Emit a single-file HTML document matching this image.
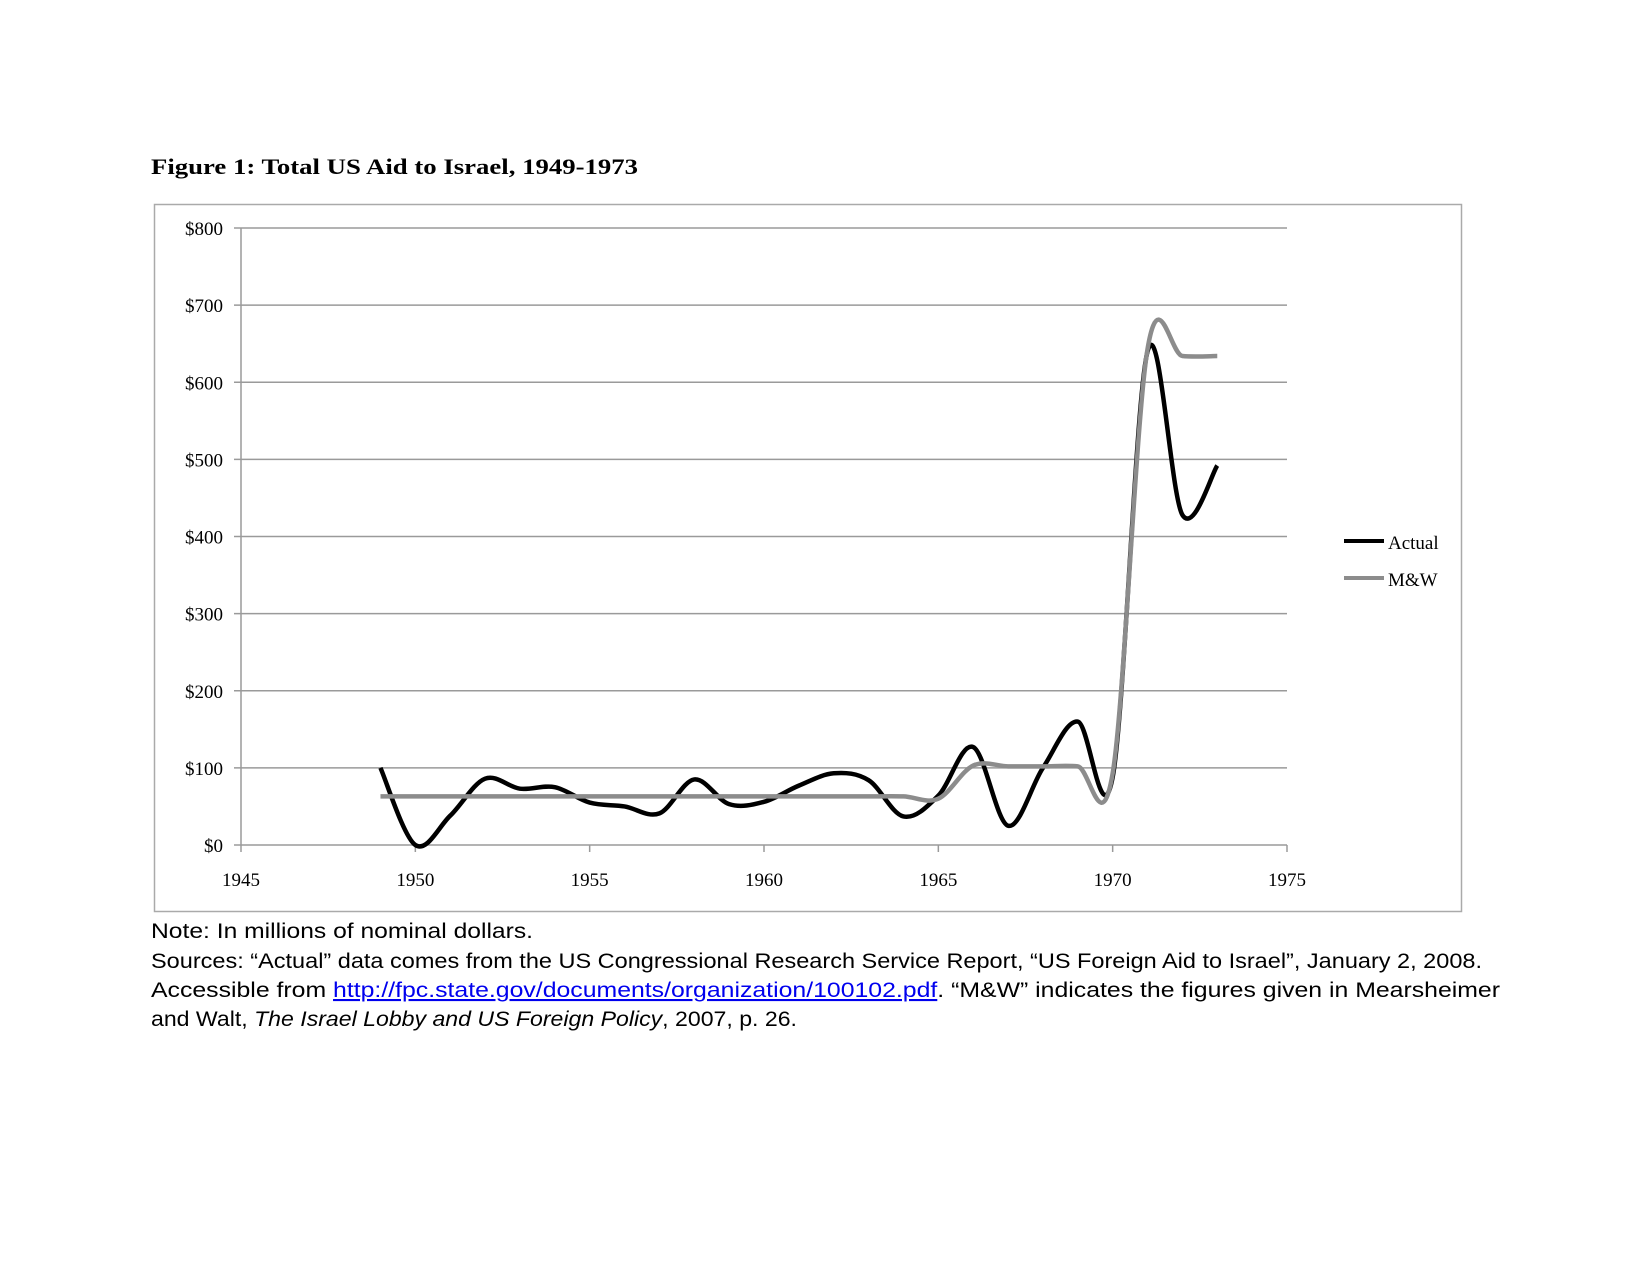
<!DOCTYPE html>
<html><head><meta charset="utf-8"><style>
body{margin:0;background:#fff}
svg{display:block}
text{font-family:"Liberation Serif",serif}
.note{font-family:"Liberation Sans",sans-serif;font-size:21px}
</style></head><body>
<svg id="chart" width="1651" height="1275" viewBox="0 0 1651 1275" xmlns="http://www.w3.org/2000/svg">
<text x="151" y="174" font-size="22" font-weight="bold" textLength="487" lengthAdjust="spacingAndGlyphs">Figure 1: Total US Aid to Israel, 1949-1973</text>
<rect x="154.5" y="204.5" width="1307" height="707" fill="none" stroke="#aaa" stroke-width="1.5"/>
<g id="grid"></g><g id="axes"></g><g id="series"></g>
<g>
<line x1="1344" y1="541" x2="1384" y2="541" stroke="#000" stroke-width="4"/>
<text x="1388" y="549" font-size="19">Actual</text>
<line x1="1344" y1="578" x2="1384" y2="578" stroke="#8c8c8c" stroke-width="4"/>
<text x="1388" y="586" font-size="19">M&amp;W</text>
</g>
<text class="note" x="151" y="938" textLength="382" lengthAdjust="spacingAndGlyphs">Note: In millions of nominal dollars.</text>
<text class="note" x="151" y="968" textLength="1331" lengthAdjust="spacingAndGlyphs">Sources: “Actual” data comes from the US Congressional Research Service Report, “US Foreign Aid to Israel”, January 2, 2008.</text>
<text class="note" x="151" y="997" textLength="1349" lengthAdjust="spacingAndGlyphs">Accessible from <tspan fill="#0000ee" text-decoration="underline">http://fpc.state.gov/documents/organization/100102.pdf</tspan>. “M&amp;W” indicates the figures given in Mearsheimer</text>
<text class="note" x="151" y="1026" textLength="646" lengthAdjust="spacingAndGlyphs">and Walt, <tspan font-style="italic">The Israel Lobby and US Foreign Policy</tspan>, 2007, p. 26.</text>
</svg>
<script>
const years=[1949,1950,1951,1952,1953,1954,1955,1956,1957,1958,1959,1960,1961,1962,1963,1964,1965,1966,1967,1968,1969,1970,1971,1972,1973];
const actual=[100,0,38,86,73,75,55,50,41,85,53,56,77,93,84,37,64,127,25,100,160,88,640,428,492];
const mw=[63,63,63,63,63,63,63,63,63,63,63,63,63,63,63,63,60,103,102,102,102,93,643,634,634];
const yTicks=[0,100,200,300,400,500,600,700,800];
const xTicks=[1945,1950,1955,1960,1965,1970,1975];
const NS='http://www.w3.org/2000/svg';
const X=v=>241+(v-1945)*(1287-241)/30;
const Y=v=>845-v*(845-228)/800;
function mk(tag,attrs,parent,txt){const e=document.createElementNS(NS,tag);for(const k in attrs)e.setAttribute(k,attrs[k]);if(txt!==undefined)e.textContent=txt;parent.appendChild(e);return e;}
const grid=document.getElementById('grid'),axes=document.getElementById('axes'),ser=document.getElementById('series');
yTicks.forEach(t=>{
 if(t>0){const g=mk('line',{x1:X(1945),x2:X(1975),y1:Y(t),y2:Y(t),stroke:'#9a9a9a','stroke-width':1.5},grid);
 
 }
 const tk=mk('line',{x1:X(1945)-7,x2:X(1945),y1:Y(t),y2:Y(t),stroke:'#9a9a9a','stroke-width':1.5},axes);
 
 
 const l=mk('text',{x:223,y:Y(t)+7,'text-anchor':'end','font-size':19},axes,'$'+t);
 
 
});
const ya=mk('line',{x1:X(1945),x2:X(1945),y1:Y(800),y2:Y(0),stroke:'#9a9a9a','stroke-width':1.5},axes);


const xa=mk('line',{x1:X(1945),x2:X(1975),y1:Y(0),y2:Y(0),stroke:'#9a9a9a','stroke-width':1.5},axes);


xTicks.forEach(t=>{
 const tk=mk('line',{x1:X(t),x2:X(t),y1:Y(0),y2:Y(0)+7,stroke:'#9a9a9a','stroke-width':1.5},axes);
 
 
 const l=mk('text',{x:X(t),y:886,'text-anchor':'middle','font-size':19},axes,String(t));
 
 
});
function smooth(vals){
 const p=years.map((y,i)=>[X(y),Y(vals[i])]);
 let d='M'+p[0][0]+','+p[0][1];
 for(let i=0;i<p.length-1;i++){
  const p0=p[i-1]||p[i],p1=p[i],p2=p[i+1],p3=p[i+2]||p[i+1];
  const c1=[p1[0]+(p2[0]-p0[0])/6,p1[1]+(p2[1]-p0[1])/6];
  const c2=[p2[0]-(p3[0]-p1[0])/6,p2[1]-(p3[1]-p1[1])/6];
  d+=' C'+c1+' '+c2+' '+p2;
 }
 return d;
}
const a=mk('path',{d:smooth(actual),fill:'none',stroke:'#000','stroke-width':4.5,'stroke-linejoin':'round'},ser);


const m=mk('path',{d:smooth(mw),fill:'none',stroke:'#8c8c8c','stroke-width':4.5,'stroke-linejoin':'round'},ser);


</script>
</body></html>
